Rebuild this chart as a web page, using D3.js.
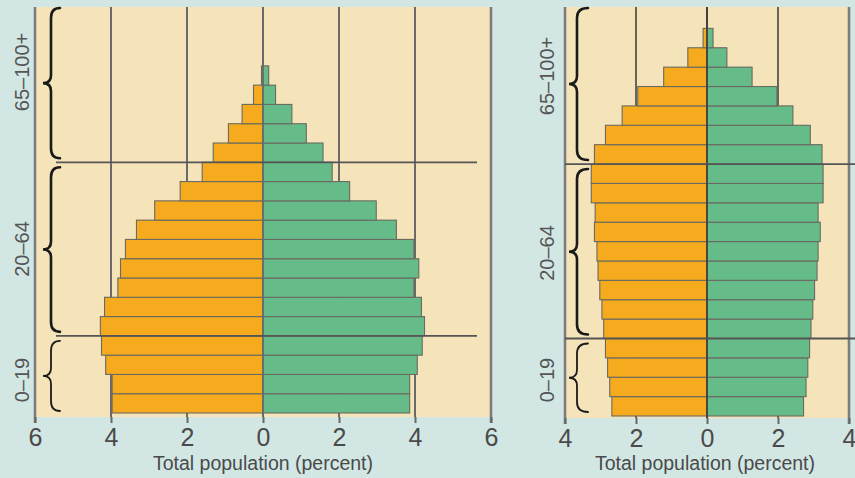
<!DOCTYPE html>
<html><head><meta charset="utf-8">
<script src="https://cdn.jsdelivr.net/npm/d3@7"></script>
<style>
html,body{margin:0;padding:0;background:#d2e7e4;}
svg{display:block;}
</style></head>
<body>
<svg id="chart" width="855" height="478"></svg>
<script>
// ---- data (bottom-up: 0–4 first) ----
const ageGroups = ["0–4","5–9","10–14","15–19","20–24","25–29","30–34","35–39","40–44","45–49",
  "50–54","55–59","60–64","65–69","70–74","75–79","80–84","85–89","90–94","95–99","100+"];
const leftOrange = [3.97,3.97,4.14,4.25,4.28,4.17,3.82,3.75,3.62,3.33,2.85,2.18,1.60,1.31,0.91,0.55,0.25,0.04,0,0,0];
const leftGreen  = [3.86,3.86,4.06,4.19,4.25,4.17,3.97,4.10,3.97,3.51,2.98,2.28,1.82,1.58,1.14,0.76,0.33,0.15,0,0,0];
const rightOrange = [2.68,2.74,2.80,2.86,2.91,2.96,3.02,3.07,3.10,3.17,3.15,3.26,3.26,3.17,2.86,2.39,1.95,1.22,0.54,0.11,0];
const rightGreen  = [2.72,2.79,2.84,2.89,2.93,2.98,3.03,3.10,3.13,3.19,3.13,3.27,3.27,3.24,2.91,2.42,1.97,1.27,0.56,0.17,0];
const leftTicks = [-6,-4,-2,0,2,4,6];
const rightTicks = [-4,-2,0,2,4];
const groupLabels = ["0–19","20–64","65–100+"];
const groupFirst = ["0–4","20–24","65–69"];
const groupLast  = ["15–19","60–64","100+"];
const axisTitle = "Total population (percent)";

const svg = d3.select("#chart");
const ORANGE = "#f6ab1f", GREEN = "#66bc88", CREAM = "#f5e4ba";

function drawPyramid(cfg){
  const g = svg.append("g");
  const x = d3.scaleLinear().domain(cfg.xDomain).range(cfg.xRange);
  const y = d3.scaleBand().domain(ageGroups.slice().reverse()).range(cfg.yRange).padding(0);
  const bw = y.bandwidth();
  // background
  g.append("rect").attr("x", x(cfg.xDomain[0])).attr("y", cfg.plotTop)
    .attr("width", x(cfg.xDomain[1]) - x(cfg.xDomain[0])).attr("height", cfg.plotBottom - cfg.plotTop)
    .attr("fill", CREAM);
  // grid lines (inner)
  const inner = cfg.ticks.filter(t => t !== cfg.xDomain[0] && t !== cfg.xDomain[1]);
  g.selectAll("line.grid").data(inner).join("line").attr("class","grid")
    .attr("x1", d => x(d)).attr("x2", d => x(d))
    .attr("y1", cfg.plotTop).attr("y2", cfg.plotBottom)
    .attr("stroke", cfg.gridColor).attr("stroke-width", cfg.gridWidth);
  // bars
  const rows = ageGroups.map((a,i) => ({age:a, o:cfg.orange[i], gr:cfg.green[i]}));
  g.selectAll("rect.o").data(rows.filter(d => d.o > 0)).join("rect").attr("class","o")
    .attr("x", d => x(-d.o)).attr("y", d => y(d.age))
    .attr("width", d => x(0) - x(-d.o)).attr("height", bw)
    .attr("fill", ORANGE).attr("stroke", "#6a6a60").attr("stroke-width", 1.1);
  g.selectAll("rect.gr").data(rows.filter(d => d.gr > 0)).join("rect").attr("class","gr")
    .attr("x", x(0)).attr("y", d => y(d.age))
    .attr("width", d => x(d.gr) - x(0)).attr("height", bw)
    .attr("fill", GREEN).attr("stroke", "#6a6a60").attr("stroke-width", 1.1);
  // zero line
  g.append("line").attr("x1", x(0)).attr("x2", x(0)).attr("y1", cfg.plotTop).attr("y2", cfg.plotBottom)
    .attr("stroke", cfg.gridColor).attr("stroke-width", 1.6);
  // borders
  [cfg.xDomain[0], cfg.xDomain[1]].forEach(v => {
    g.append("line").attr("x1", x(v)).attr("x2", x(v)).attr("y1", cfg.plotTop).attr("y2", cfg.plotBottom + 6)
      .attr("stroke", "#7d7d7d").attr("stroke-width", 2.6);
  });
  // separators
  [groupFirst[1], groupFirst[2]].forEach(a => {
    const yy = y(a) + bw;
    g.append("line").attr("x1", cfg.sepX[0]).attr("x2", cfg.sepX[1]).attr("y1", yy).attr("y2", yy)
      .attr("stroke", "#555").attr("stroke-width", 1.8);
  });
  // axis
  const axis = d3.axisBottom(x).tickValues(cfg.ticks).tickFormat(d => Math.abs(d)).tickSize(6).tickPadding(5);
  const ax = g.append("g").attr("transform", `translate(0,${cfg.plotBottom})`).call(axis);
  ax.select(".domain").remove();
  ax.selectAll(".tick line").attr("stroke", "#666").attr("stroke-width", 2);
  ax.selectAll(".tick text").attr("font-family", "'Liberation Sans', Arial, sans-serif")
    .attr("font-size", 25).attr("fill", "#4a4a4a");
  // axis title
  g.append("text").attr("x", (x(cfg.xDomain[0]) + x(cfg.xDomain[1])) / 2 + cfg.titleDx).attr("y", 470)
    .attr("text-anchor", "middle").attr("font-family", "'Liberation Sans', Arial, sans-serif")
    .attr("font-size", 19.5).attr("fill", "#4a4a4a").text(axisTitle);
  // braces + group labels
  groupLabels.forEach((lab, i) => {
    const top = (i === 2 ? cfg.plotTop : y(groupFirst[i+0] === "65–69" ? "100+" : groupLast[i]) ) ;
    const yTop = i === 2 ? cfg.plotTop + 1 : y(groupLast[i]) + 5;
    const yBot = i === 0 ? cfg.plotBottom - 6 : y(groupFirst[i]) + bw - 4;
    const ym = (yTop + yBot) / 2;
    const xe = cfg.braceX[2], xb = cfg.braceX[1], xt = cfg.braceX[0];
    const r = 10;
    const p = `M${xe},${yTop} Q${xb},${yTop} ${xb},${yTop + r} L${xb},${ym - 8} Q${xb},${ym} ${xt},${ym}`
      + ` Q${xb},${ym} ${xb},${ym + 8} L${xb},${yBot - r} Q${xb},${yBot} ${xe},${yBot}`;
    g.append("path").attr("d", p).attr("fill", "none").attr("stroke", "#1a1a1a")
      .attr("stroke-width", i === 0 ? 1.8 : 2.6).attr("stroke-linecap", "round");
    g.append("text").attr("transform", `translate(${cfg.labelX},${cfg.labelY[i]}) rotate(-90)`)
      .attr("text-anchor", "middle").attr("font-family", "'Liberation Sans', Arial, sans-serif")
      .attr("font-size", 20).attr("fill", "#555").text(lab);
  });
}

drawPyramid({
  xDomain: [-6, 6], xRange: [35, 491], yRange: [8, 413], plotTop: 7, plotBottom: 417,
  ticks: leftTicks, orange: leftOrange, green: leftGreen,
  gridColor: "#6a6a6a", gridWidth: 2, sepX: [56, 477],
  braceX: [43, 51, 60], labelX: 29, labelY: [380, 249, 72], titleDx: 0
});
drawPyramid({
  xDomain: [-4, 4], xRange: [565, 849], yRange: [9, 416], plotTop: 7, plotBottom: 418,
  ticks: rightTicks, orange: rightOrange, green: rightGreen,
  gridColor: "#3a3a3a", gridWidth: 1.5, sepX: [565, 855],
  braceX: [569, 577, 588], labelX: 554, labelY: [380, 253, 76], titleDx: -2
});
</script>
</body></html>
